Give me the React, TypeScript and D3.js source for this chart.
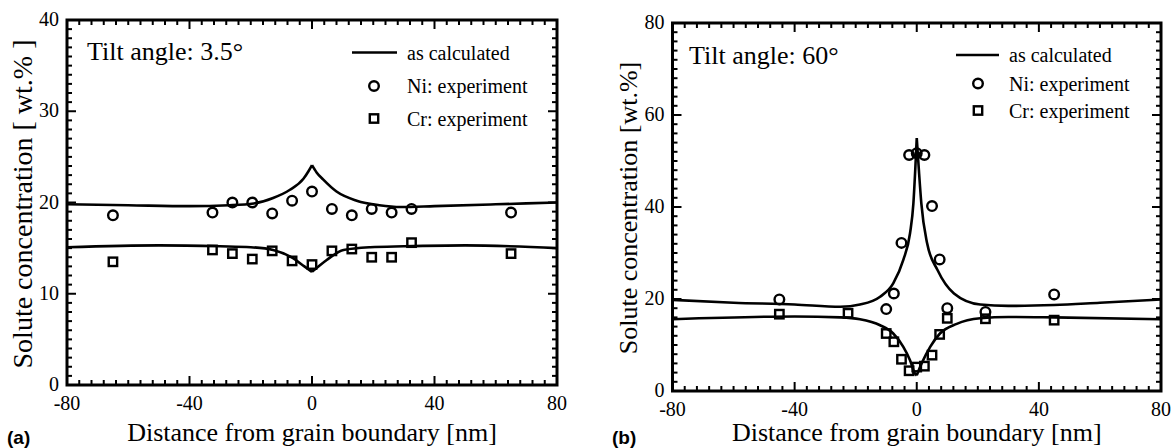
import React from 'react';
import * as d3 from 'd3';

// ---------- data ----------
const xTickLabels = [-80, -40, 0, 40, 80];
const yTickLabelsA = [0, 10, 20, 30, 40];
const yTickLabelsB = [0, 20, 40, 60, 80];

// Panel (a): tilt angle 3.5°
const expXA = [-65, -32.5, -26, -19.5, -13, -6.5, 0, 6.5, 13, 19.5, 26, 32.5, 65];
const niYA = [18.6, 18.9, 20.0, 20.0, 18.8, 20.2, 21.2, 19.3, 18.6, 19.3, 18.9, 19.3, 18.9];
const crYA = [13.5, 14.8, 14.4, 13.8, 14.7, 13.6, 13.2, 14.7, 14.9, 14.0, 14.0, 15.6, 14.4];

const niCurveXA = [-80, -60, -40, -27, -19, -12.7, -7.2, -2.8, -1.2, 0, 1.5, 3.7, 8, 14.6, 22, 29, 40, 60, 80];
const niCurveYA = [19.8, 19.7, 19.6, 19.7, 19.9, 20.5, 21.4, 22.6, 23.4, 24.1, 23.3, 22.5, 21.2, 20.2, 19.7, 19.5, 19.6, 19.8, 20.0];
const crCurveXA = [-80, -50, -30, -20, -12.7, -6.2, -2.5, 0, 2.5, 4.8, 10.3, 19, 30, 50, 80];
const crCurveYA = [15.1, 15.3, 15.2, 15.1, 14.8, 13.9, 13.0, 12.4, 13.1, 13.7, 14.8, 15.1, 15.2, 15.3, 15.0];

// Panel (b): tilt angle 60°
const niXB = [-45, -10, -7.5, -5, -2.5, 0, 2.5, 5, 7.5, 10, 22.5, 45];
const niYB = [19.9, 17.8, 21.2, 32.2, 51.3, 51.7, 51.3, 40.2, 28.6, 18.0, 17.2, 21.0];
const crXB = [-45, -22.5, -10, -7.5, -5, -2.5, 0, 2.5, 5, 7.5, 10, 22.5, 45];
const crYB = [16.7, 16.9, 12.5, 10.7, 6.9, 4.4, 5.2, 5.4, 7.8, 12.3, 15.8, 15.7, 15.4];

const niCurveXB = [-80, -60, -40, -25, -18.6, -12, -7.7, -4.4, -2.2, -1.1, -0.5, 0, 0.7, 1.5, 3.4, 6.8, 12.2, 20.8, 30, 45, 60, 80];
const niCurveYB = [19.8, 19.2, 18.8, 18.3, 18.8, 20.5, 23.4, 28.5, 34.3, 40.8, 48, 55, 48, 40.8, 32.1, 26.3, 21.2, 18.8, 18.5, 18.7, 19.2, 19.9];
const crCurveXB = [-80, -40, -25, -18.6, -12, -7.7, -4.4, -2.2, -0.6, 0, 1.6, 4.4, 7.6, 13.1, 20.8, 30, 45, 80];
const crCurveYB = [15.6, 16.2, 16.0, 15.6, 14.3, 12.5, 9.6, 6.7, 3.8, 3.4, 6.0, 9.6, 12.5, 14.6, 15.8, 16.1, 16.0, 15.6];

const legendLabels = ['as calculated', 'Ni: experiment', 'Cr: experiment'];

// ---------- drawing ----------
const SERIF = '"Liberation Serif", "Times New Roman", Times, serif';
const SANS = '"Liberation Sans", Arial, Helvetica, sans-serif';

type Box = { left: number; right: number; top: number; bottom: number };

function curvePath(xs: number[], ys: number[], x: any, y: any) {
  const pts = xs.map((v, i) => [v, ys[i]] as [number, number]);
  const left = pts.filter((p) => p[0] <= 0);
  const right = pts.filter((p) => p[0] >= 0);
  const line = d3
    .line<[number, number]>()
    .x((d) => x(d[0]))
    .y((d) => y(d[1]))
    .curve(d3.curveMonotoneX);
  return (line(left) || '') + (line(right) || '');
}

function Panel(props: {
  box: Box;
  yMax: number;
  yMinor: number;
  yMajor: number;
  yTicks: number[];
  niX: number[];
  niY: number[];
  crX: number[];
  crY: number[];
  niCX: number[];
  niCY: number[];
  crCX: number[];
  crCY: number[];
  tilt: string;
  tiltX: number;
  tiltY: number;
  legLineX0: number;
  legLineX1: number;
  legMarkX: number;
  legTextX: number;
  legRows: number[];
  yLabelX: number;
  yLabelY: number;
  yLabelSize: number;
  yLabelText: string;
  letter: string;
  letterX: number;
}) {
  const { box } = props;
  const x = d3.scaleLinear().domain([-80, 80]).range([box.left, box.right]);
  const y = d3.scaleLinear().domain([0, props.yMax]).range([box.bottom, box.top]);
  const xMinor = d3.range(-80, 80.001, 4);
  const yMinorVals = d3.range(0, props.yMax + 0.001, props.yMinor);
  const tickSW = 2;
  const minorLen = 5;
  const majorLen = 9;
  const sq = 8.4;
  return (
    <g>
      {xMinor.map((v, i) => {
        const len = Math.abs(v % 40) < 1e-6 ? majorLen : minorLen;
        const px = x(v);
        return (
          <g key={'xt' + i}>
            <line x1={px} x2={px} y1={box.bottom} y2={box.bottom - len} stroke="#000" strokeWidth={tickSW} />
            <line x1={px} x2={px} y1={box.top} y2={box.top + len} stroke="#000" strokeWidth={tickSW} />
          </g>
        );
      })}
      {yMinorVals.map((v, i) => {
        const len = Math.abs(v % props.yMajor) < 1e-6 ? majorLen : minorLen;
        const py = y(v);
        return (
          <g key={'yt' + i}>
            <line x1={box.left} x2={box.left + len} y1={py} y2={py} stroke="#000" strokeWidth={tickSW} />
            <line x1={box.right} x2={box.right - len} y1={py} y2={py} stroke="#000" strokeWidth={tickSW} />
          </g>
        );
      })}
      <rect
        x={box.left}
        y={box.top}
        width={box.right - box.left}
        height={box.bottom - box.top}
        fill="none"
        stroke="#000"
        strokeWidth={3}
      />
      {xTickLabels.map((v) => (
        <text key={'xl' + v} x={x(v)} y={box.bottom + 25} textAnchor="middle" fontFamily={SERIF} fontSize={20}>
          {v}
        </text>
      ))}
      {props.yTicks.map((v) => (
        <text key={'yl' + v} x={box.left - 8} y={y(v) + 6} textAnchor="end" fontFamily={SERIF} fontSize={20}>
          {v}
        </text>
      ))}
      <path d={curvePath(props.niCX, props.niCY, x, y)} fill="none" stroke="#000" strokeWidth={2.6} />
      <path d={curvePath(props.crCX, props.crCY, x, y)} fill="none" stroke="#000" strokeWidth={2.6} />
      {props.niX.map((v, i) => (
        <circle key={'ni' + i} cx={x(v)} cy={y(props.niY[i])} r={4.8} fill="none" stroke="#000" strokeWidth={2.4} />
      ))}
      {props.crX.map((v, i) => (
        <rect
          key={'cr' + i}
          x={x(v) - sq / 2}
          y={y(props.crY[i]) - sq / 2}
          width={sq}
          height={sq}
          fill="none"
          stroke="#000"
          strokeWidth={2.4}
        />
      ))}
      <text x={props.tiltX} y={props.tiltY} fontFamily={SERIF} fontSize={26}>
        {props.tilt}
      </text>
      <line
        x1={props.legLineX0}
        x2={props.legLineX1}
        y1={props.legRows[0]}
        y2={props.legRows[0]}
        stroke="#000"
        strokeWidth={2.6}
      />
      <circle cx={props.legMarkX} cy={props.legRows[1]} r={4.8} fill="none" stroke="#000" strokeWidth={2.4} />
      <rect
        x={props.legMarkX - sq / 2}
        y={props.legRows[2] - sq / 2}
        width={sq}
        height={sq}
        fill="none"
        stroke="#000"
        strokeWidth={2.4}
      />
      {legendLabels.map((t, i) => (
        <text key={'lg' + i} x={props.legTextX} y={props.legRows[i] + 7} fontFamily={SERIF} fontSize={20}>
          {t}
        </text>
      ))}
      <text x={(box.left + box.right) / 2} y={441} textAnchor="middle" fontFamily={SERIF} fontSize={26}>
        Distance from grain boundary [nm]
      </text>
      <text
        transform={`translate(${props.yLabelX},${props.yLabelY}) rotate(-90)`}
        textAnchor="middle"
        dominantBaseline="central"
        fontFamily={SERIF}
        fontSize={props.yLabelSize}
      >
        {props.yLabelText}
      </text>
      <text x={props.letterX} y={444} fontFamily={SANS} fontWeight="bold" fontSize={19}>
        {props.letter}
      </text>
    </g>
  );
}

export default function App() {
  return (
    <svg
      width={1172}
      height={448}
      viewBox="0 0 1172 448"
      style={{ position: 'absolute', left: 0, top: 0, background: '#fff' }}
    >
      <rect x={0} y={0} width={1172} height={448} fill="#fff" />
      <Panel
        box={{ left: 67, right: 557, top: 20, bottom: 385 }}
        yMax={40}
        yMinor={1}
        yMajor={10}
        yTicks={yTickLabelsA}
        niX={expXA}
        niY={niYA}
        crX={expXA}
        crY={crYA}
        niCX={niCurveXA}
        niCY={niCurveYA}
        crCX={crCurveXA}
        crCY={crCurveYA}
        tilt="Tilt angle: 3.5°"
        tiltX={87}
        tiltY={60}
        legLineX0={352}
        legLineX1={397}
        legMarkX={374}
        legTextX={407}
        legRows={[52.5, 86, 118.5]}
        yLabelX={22}
        yLabelY={204}
        yLabelSize={28}
        yLabelText="Solute concentration [ wt.% ]"
        letter="(a)"
        letterX={7}
      />
      <Panel
        box={{ left: 672.5, right: 1161, top: 23, bottom: 391 }}
        yMax={80}
        yMinor={2}
        yMajor={20}
        yTicks={yTickLabelsB}
        niX={niXB}
        niY={niYB}
        crX={crXB}
        crY={crYB}
        niCX={niCurveXB}
        niCY={niCurveYB}
        crCX={crCurveXB}
        crCY={crCurveYB}
        tilt="Tilt angle: 60°"
        tiltX={689}
        tiltY={64}
        legLineX0={956}
        legLineX1={999}
        legMarkX={978}
        legTextX={1009}
        legRows={[55, 83.5, 110.5]}
        yLabelX={628}
        yLabelY={208}
        yLabelSize={26}
        yLabelText="Solute concentration [wt.%]"
        letter="(b)"
        letterX={612}
      />
    </svg>
  );
}
